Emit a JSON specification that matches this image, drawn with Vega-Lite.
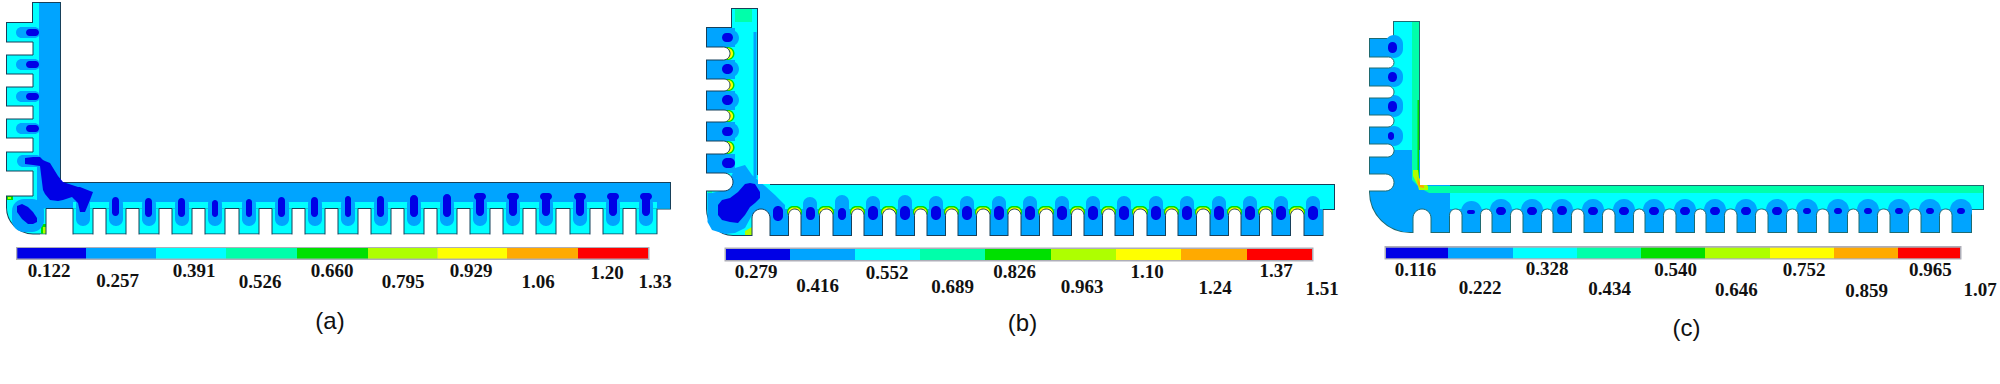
{"$schema":"https://vega.github.io/schema/vega-lite/v6.json","width":2000,"height":384,"padding":0,"autosize":"none","background":"white","config":{"view":{"stroke":null},"legend":{"disable":true}},
"datasets":{
"r":[
{"p":"a","k":"sil","l":"2","x":33,"x2":60,"y":3,"y2":183},{"p":"a","k":"sil","l":"2","x":7,"x2":33,"y":23,"y2":196},{"p":"a","k":"sil","l":"2","x":33,"x2":670,"y":183,"y2":208.5},{"p":"a","k":"sil","l":"2","x":46,"x2":656.5,"y":208.5,"y2":233.5},
{"p":"b","k":"sil","l":"2","x":732,"x2":757,"y":9,"y2":185},{"p":"b","k":"sil","l":"2","x":707,"x2":733,"y":28,"y2":191},{"p":"b","k":"sil","l":"2","x":732,"x2":1334,"y":185,"y2":209},{"p":"b","k":"sil","l":"2","x":752,"x2":1322.5,"y":209,"y2":235},
{"p":"c","k":"sil","l":"2","x":1394,"x2":1419,"y":22,"y2":186},{"p":"c","k":"sil","l":"2","x":1370,"x2":1396,"y":39,"y2":191},{"p":"c","k":"sil","l":"2","x":1394,"x2":1983,"y":186,"y2":209},{"p":"c","k":"sil","l":"2","x":1413,"x2":1971,"y":209,"y2":232},
{"p":"a","k":"foot","l":"2","x":7,"x2":60,"y":180,"y2":233.5},{"p":"b","k":"foot","l":"2","x":707,"x2":770,"y":175,"y2":235},{"p":"c","k":"footc","l":"1","x":1370,"x2":1450,"y":150,"y2":232},
{"p":"a","k":"c","l":"1","x":39,"x2":60,"y":3,"y2":183},{"p":"a","k":"c","l":"1","x":46,"x2":670,"y":183,"y2":202},{"p":"a","k":"c","l":"1","x":37,"x2":60,"y":165,"y2":208.5},{"p":"a","k":"c","l":"1","x":46,"x2":73,"y":183,"y2":208.5},{"p":"a","k":"c","l":"1","x":657,"x2":670,"y":183,"y2":208.5},
{"p":"a","k":"c","l":"4","x":7,"x2":13,"y":196,"y2":200},{"p":"a","k":"c","l":"5","x":8,"x2":11,"y":197,"y2":199},{"p":"a","k":"c","l":"4","x":41,"x2":46,"y":224,"y2":233.5},{"p":"a","k":"c","l":"5","x":43,"x2":46,"y":227,"y2":233.5},
{"p":"b","k":"c","l":"3","x":735,"x2":752,"y":9,"y2":22},{"p":"b","k":"c","l":"1","x":753.5,"x2":756.5,"y":32,"y2":178},{"p":"b","k":"c","l":"1","x":707,"x2":735,"y":28,"y2":47},{"p":"b","k":"c","l":"1","x":707,"x2":735,"y":60,"y2":79},{"p":"b","k":"c","l":"1","x":707,"x2":735,"y":91,"y2":110},{"p":"b","k":"c","l":"1","x":707,"x2":735,"y":122,"y2":141},{"p":"b","k":"c","l":"1","x":707,"x2":735,"y":154,"y2":173},{"p":"b","k":"c","l":"1","x":752,"x2":1322.5,"y":209,"y2":235},{"p":"b","k":"c","l":"3","x":708,"x2":712,"y":191,"y2":200},
{"p":"c","k":"c","l":"3","x":1412,"x2":1419,"y":22,"y2":186},{"p":"c","k":"c","l":"3","x":1412,"x2":1983,"y":186,"y2":193},{"p":"c","k":"c","l":"4","x":1417.5,"x2":1419,"y":100,"y2":180},{"p":"c","k":"c","l":"1","x":1370,"x2":1396,"y":39,"y2":57},{"p":"c","k":"c","l":"1","x":1370,"x2":1396,"y":68,"y2":86},{"p":"c","k":"c","l":"1","x":1370,"x2":1396,"y":98,"y2":115},{"p":"c","k":"c","l":"1","x":1370,"x2":1396,"y":127,"y2":144},{"p":"c","k":"c","l":"1","x":1413,"x2":1971,"y":209,"y2":232},

{"p":"a","k":"b","l":"1","x":16,"x2":40,"y":27,"y2":38},{"p":"a","k":"b","l":"1","x":16,"x2":40,"y":59,"y2":70},{"p":"a","k":"b","l":"1","x":16,"x2":40,"y":91,"y2":102},{"p":"a","k":"b","l":"1","x":16,"x2":40,"y":123,"y2":134},{"p":"a","k":"b","l":"1","x":17,"x2":42,"y":155,"y2":167},{"p":"a","k":"b","l":"1","x":12,"x2":44,"y":199,"y2":232},
{"p":"a","k":"b","l":"1","x":76,"x2":90,"y":197,"y2":226},{"p":"a","k":"b","l":"1","x":109,"x2":123,"y":197,"y2":226},{"p":"a","k":"b","l":"1","x":142,"x2":156,"y":197,"y2":226},{"p":"a","k":"b","l":"1","x":175,"x2":189,"y":197,"y2":226},{"p":"a","k":"b","l":"1","x":208,"x2":222,"y":197,"y2":226},{"p":"a","k":"b","l":"1","x":242,"x2":256,"y":197,"y2":226},{"p":"a","k":"b","l":"1","x":275,"x2":289,"y":197,"y2":226},{"p":"a","k":"b","l":"1","x":308,"x2":322,"y":197,"y2":226},{"p":"a","k":"b","l":"1","x":341,"x2":355,"y":197,"y2":226},{"p":"a","k":"b","l":"1","x":374,"x2":388,"y":197,"y2":226},{"p":"a","k":"b","l":"1","x":407,"x2":421,"y":197,"y2":226},{"p":"a","k":"b","l":"1","x":440,"x2":454,"y":197,"y2":226},{"p":"a","k":"b","l":"1","x":473,"x2":487,"y":197,"y2":226},{"p":"a","k":"b","l":"1","x":506,"x2":520,"y":197,"y2":226},{"p":"a","k":"b","l":"1","x":539,"x2":553,"y":197,"y2":226},{"p":"a","k":"b","l":"1","x":573,"x2":587,"y":197,"y2":226},{"p":"a","k":"b","l":"1","x":606,"x2":620,"y":197,"y2":226},{"p":"a","k":"b","l":"1","x":639,"x2":653,"y":197,"y2":226},

{"p":"b","k":"b","l":"1","x":722,"x2":739,"y":30,"y2":46},{"p":"b","k":"b","l":"1","x":722,"x2":739,"y":61,"y2":77},{"p":"b","k":"b","l":"1","x":722,"x2":739,"y":92,"y2":108},{"p":"b","k":"b","l":"1","x":722,"x2":739,"y":123,"y2":139},
{"p":"b","k":"b","l":"1","x":803,"x2":817,"y":197,"y2":225},{"p":"b","k":"b","l":"1","x":835,"x2":849,"y":195,"y2":225},{"p":"b","k":"b","l":"1","x":866,"x2":880,"y":196,"y2":225},{"p":"b","k":"b","l":"1","x":898,"x2":912,"y":195,"y2":225},{"p":"b","k":"b","l":"1","x":929,"x2":943,"y":196,"y2":225},{"p":"b","k":"b","l":"1","x":960,"x2":974,"y":196,"y2":225},{"p":"b","k":"b","l":"1","x":992,"x2":1006,"y":196,"y2":225},{"p":"b","k":"b","l":"1","x":1023,"x2":1037,"y":196,"y2":225},{"p":"b","k":"b","l":"1","x":1055,"x2":1069,"y":196,"y2":225},{"p":"b","k":"b","l":"1","x":1086,"x2":1100,"y":196,"y2":225},{"p":"b","k":"b","l":"1","x":1117,"x2":1131,"y":196,"y2":225},{"p":"b","k":"b","l":"1","x":1149,"x2":1163,"y":196,"y2":225},{"p":"b","k":"b","l":"1","x":1180,"x2":1194,"y":196,"y2":225},{"p":"b","k":"b","l":"1","x":1212,"x2":1226,"y":196,"y2":225},{"p":"b","k":"b","l":"1","x":1243,"x2":1257,"y":196,"y2":225},{"p":"b","k":"b","l":"1","x":1274,"x2":1288,"y":196,"y2":225},{"p":"b","k":"b","l":"1","x":1306,"x2":1320,"y":196,"y2":225},

{"p":"c","k":"b","l":"1","x":1385,"x2":1403,"y":35,"y2":58},{"p":"c","k":"b","l":"1","x":1385,"x2":1403,"y":67,"y2":87},{"p":"c","k":"b","l":"1","x":1385,"x2":1403,"y":95,"y2":117},{"p":"c","k":"b","l":"1","x":1385,"x2":1403,"y":126,"y2":146},
{"p":"c","k":"b","l":"1","x":1461,"x2":1482,"y":201,"y2":222},{"p":"c","k":"b","l":"1","x":1490,"x2":1512,"y":199,"y2":222},{"p":"c","k":"b","l":"1","x":1521,"x2":1543,"y":199,"y2":222},{"p":"c","k":"b","l":"1","x":1551,"x2":1573,"y":199,"y2":222},{"p":"c","k":"b","l":"1","x":1582,"x2":1604,"y":199,"y2":222},{"p":"c","k":"b","l":"1","x":1613,"x2":1635,"y":199,"y2":222},{"p":"c","k":"b","l":"1","x":1643,"x2":1665,"y":199,"y2":222},{"p":"c","k":"b","l":"1","x":1674,"x2":1696,"y":199,"y2":222},{"p":"c","k":"b","l":"1","x":1704,"x2":1726,"y":199,"y2":222},{"p":"c","k":"b","l":"1","x":1735,"x2":1757,"y":199,"y2":222},{"p":"c","k":"b","l":"1","x":1766,"x2":1788,"y":199,"y2":222},{"p":"c","k":"b","l":"1","x":1796,"x2":1818,"y":199,"y2":222},{"p":"c","k":"b","l":"1","x":1827,"x2":1849,"y":199,"y2":222},{"p":"c","k":"b","l":"1","x":1857,"x2":1879,"y":199,"y2":222},{"p":"c","k":"b","l":"1","x":1888,"x2":1910,"y":199,"y2":222},{"p":"c","k":"b","l":"1","x":1919,"x2":1941,"y":199,"y2":222},{"p":"c","k":"b","l":"1","x":1950,"x2":1972,"y":199,"y2":222},

{"p":"a","k":"s","l":"0","x":26,"x2":39,"y":29,"y2":36},{"p":"a","k":"s","l":"0","x":26,"x2":39,"y":61,"y2":68},{"p":"a","k":"s","l":"0","x":26,"x2":39,"y":93,"y2":100},{"p":"a","k":"s","l":"0","x":26,"x2":39,"y":125,"y2":132},
{"p":"a","k":"s","l":"0","x":112,"x2":119,"y":197,"y2":216},{"p":"a","k":"s","l":"0","x":145,"x2":152,"y":198,"y2":217},{"p":"a","k":"s","l":"0","x":178,"x2":185,"y":198,"y2":217},{"p":"a","k":"s","l":"0","x":212,"x2":218,"y":200,"y2":217},{"p":"a","k":"s","l":"0","x":246,"x2":252,"y":199,"y2":217},{"p":"a","k":"s","l":"0","x":278,"x2":285,"y":197,"y2":217},{"p":"a","k":"s","l":"0","x":311,"x2":318,"y":197,"y2":217},{"p":"a","k":"s","l":"0","x":345,"x2":351,"y":196,"y2":217},{"p":"a","k":"s","l":"0","x":377,"x2":384,"y":196,"y2":217},{"p":"a","k":"s","l":"0","x":410,"x2":418,"y":195,"y2":217},{"p":"a","k":"s","l":"0","x":443,"x2":451,"y":194,"y2":217},{"p":"a","k":"s","l":"0","x":476,"x2":484,"y":194,"y2":216},{"p":"a","k":"s","l":"0","x":509,"x2":517,"y":194,"y2":216},{"p":"a","k":"s","l":"0","x":542,"x2":550,"y":194,"y2":216},{"p":"a","k":"s","l":"0","x":576,"x2":584,"y":194,"y2":216},{"p":"a","k":"s","l":"0","x":609,"x2":617,"y":194,"y2":216},{"p":"a","k":"s","l":"0","x":642,"x2":650,"y":194,"y2":216},
{"p":"a","k":"s","l":"0","x":474,"x2":486,"y":193,"y2":200},{"p":"a","k":"s","l":"0","x":507,"x2":519,"y":193,"y2":200},{"p":"a","k":"s","l":"0","x":540,"x2":552,"y":193,"y2":200},{"p":"a","k":"s","l":"0","x":574,"x2":586,"y":193,"y2":200},{"p":"a","k":"s","l":"0","x":607,"x2":619,"y":193,"y2":200},{"p":"a","k":"s","l":"0","x":640,"x2":652,"y":193,"y2":200},

{"p":"b","k":"s","l":"0","x":722,"x2":733,"y":33,"y2":42},{"p":"b","k":"s","l":"0","x":722,"x2":733,"y":64,"y2":74},{"p":"b","k":"s","l":"0","x":722,"x2":733,"y":95,"y2":105},{"p":"b","k":"s","l":"0","x":722,"x2":733,"y":127,"y2":136},{"p":"b","k":"s","l":"0","x":722,"x2":735,"y":158,"y2":168},
{"p":"b","k":"s","l":"4","x":715,"x2":734.5,"y":47,"y2":60},{"p":"b","k":"s","l":"6","x":715,"x2":733,"y":48,"y2":59},{"p":"b","k":"s","l":"4","x":715,"x2":734.5,"y":79,"y2":91},{"p":"b","k":"s","l":"6","x":715,"x2":733,"y":80,"y2":90},{"p":"b","k":"s","l":"4","x":715,"x2":734.5,"y":110,"y2":122},{"p":"b","k":"s","l":"6","x":715,"x2":733,"y":111,"y2":121},{"p":"b","k":"s","l":"4","x":715,"x2":734.5,"y":141,"y2":154},{"p":"b","k":"s","l":"6","x":715,"x2":733,"y":142,"y2":153},
{"p":"b","k":"s","l":"0","x":773,"x2":783,"y":206,"y2":221},{"p":"b","k":"s","l":"0","x":806,"x2":815,"y":207,"y2":220},{"p":"b","k":"s","l":"0","x":838,"x2":846,"y":208,"y2":220},{"p":"b","k":"s","l":"0","x":868,"x2":878,"y":206,"y2":220},{"p":"b","k":"s","l":"0","x":900,"x2":910,"y":206,"y2":220},{"p":"b","k":"s","l":"0","x":931,"x2":941,"y":206,"y2":220},{"p":"b","k":"s","l":"0","x":962,"x2":972,"y":206,"y2":220},{"p":"b","k":"s","l":"0","x":994,"x2":1004,"y":206,"y2":220},{"p":"b","k":"s","l":"0","x":1025,"x2":1035,"y":206,"y2":220},{"p":"b","k":"s","l":"0","x":1057,"x2":1067,"y":206,"y2":220},{"p":"b","k":"s","l":"0","x":1088,"x2":1098,"y":206,"y2":220},{"p":"b","k":"s","l":"0","x":1119,"x2":1129,"y":206,"y2":220},{"p":"b","k":"s","l":"0","x":1151,"x2":1161,"y":206,"y2":220},{"p":"b","k":"s","l":"0","x":1182,"x2":1192,"y":206,"y2":220},{"p":"b","k":"s","l":"0","x":1214,"x2":1224,"y":206,"y2":220},{"p":"b","k":"s","l":"0","x":1245,"x2":1255,"y":206,"y2":220},{"p":"b","k":"s","l":"0","x":1276,"x2":1286,"y":206,"y2":220},{"p":"b","k":"s","l":"0","x":1308,"x2":1318,"y":206,"y2":220},

{"p":"c","k":"s","l":"0","x":1388,"x2":1397,"y":42,"y2":53},{"p":"c","k":"s","l":"0","x":1388,"x2":1397,"y":72,"y2":82},{"p":"c","k":"s","l":"0","x":1388,"x2":1397,"y":101,"y2":112},{"p":"c","k":"s","l":"0","x":1388,"x2":1394,"y":132,"y2":140},
{"p":"c","k":"s","l":"0","x":1467,"x2":1475,"y":210,"y2":214},{"p":"c","k":"s","l":"0","x":1496,"x2":1506,"y":207,"y2":215},{"p":"c","k":"s","l":"0","x":1527,"x2":1537,"y":207,"y2":215},{"p":"c","k":"s","l":"0","x":1557,"x2":1567,"y":206,"y2":215},{"p":"c","k":"s","l":"0","x":1588,"x2":1598,"y":207,"y2":215},{"p":"c","k":"s","l":"0","x":1619,"x2":1629,"y":207,"y2":215},{"p":"c","k":"s","l":"0","x":1649,"x2":1659,"y":207,"y2":215},{"p":"c","k":"s","l":"0","x":1680,"x2":1690,"y":207,"y2":215},{"p":"c","k":"s","l":"0","x":1710,"x2":1720,"y":207,"y2":215},{"p":"c","k":"s","l":"0","x":1741,"x2":1751,"y":207,"y2":215},{"p":"c","k":"s","l":"0","x":1772,"x2":1782,"y":207,"y2":215},{"p":"c","k":"s","l":"0","x":1803,"x2":1811,"y":208,"y2":214},{"p":"c","k":"s","l":"0","x":1834,"x2":1842,"y":208,"y2":214},{"p":"c","k":"s","l":"0","x":1864,"x2":1872,"y":208,"y2":214},{"p":"c","k":"s","l":"0","x":1895,"x2":1903,"y":208,"y2":214},{"p":"c","k":"s","l":"0","x":1926,"x2":1934,"y":208,"y2":214},{"p":"c","k":"s","l":"0","x":1957,"x2":1965,"y":208,"y2":214},

{"p":"b","k":"s","l":"4","x":787,"x2":802,"y":206,"y2":218},{"p":"b","k":"s","l":"6","x":788,"x2":801,"y":207.5,"y2":218},{"p":"b","k":"s","l":"4","x":818,"x2":834,"y":206,"y2":218},{"p":"b","k":"s","l":"6","x":819,"x2":833,"y":207.5,"y2":218},{"p":"b","k":"s","l":"4","x":850,"x2":865,"y":206,"y2":218},{"p":"b","k":"s","l":"6","x":851,"x2":864,"y":207.5,"y2":218},{"p":"b","k":"s","l":"4","x":881,"x2":897,"y":206,"y2":218},{"p":"b","k":"s","l":"6","x":882,"x2":896,"y":207.5,"y2":218},{"p":"b","k":"s","l":"4","x":913,"x2":928,"y":206,"y2":218},{"p":"b","k":"s","l":"6","x":914,"x2":927,"y":207.5,"y2":218},{"p":"b","k":"s","l":"4","x":944,"x2":959,"y":206,"y2":218},{"p":"b","k":"s","l":"6","x":945,"x2":958,"y":207.5,"y2":218},{"p":"b","k":"s","l":"4","x":975,"x2":991,"y":206,"y2":218},{"p":"b","k":"s","l":"6","x":976,"x2":990,"y":207.5,"y2":218},{"p":"b","k":"s","l":"4","x":1007,"x2":1022,"y":206,"y2":218},{"p":"b","k":"s","l":"6","x":1008,"x2":1021,"y":207.5,"y2":218},{"p":"b","k":"s","l":"4","x":1038,"x2":1054,"y":206,"y2":218},{"p":"b","k":"s","l":"6","x":1039,"x2":1053,"y":207.5,"y2":218},{"p":"b","k":"s","l":"4","x":1070,"x2":1085,"y":206,"y2":218},{"p":"b","k":"s","l":"6","x":1071,"x2":1084,"y":207.5,"y2":218},{"p":"b","k":"s","l":"4","x":1101,"x2":1116,"y":206,"y2":218},{"p":"b","k":"s","l":"6","x":1102,"x2":1115,"y":207.5,"y2":218},{"p":"b","k":"s","l":"4","x":1132,"x2":1148,"y":206,"y2":218},{"p":"b","k":"s","l":"6","x":1133,"x2":1147,"y":207.5,"y2":218},{"p":"b","k":"s","l":"4","x":1164,"x2":1179,"y":206,"y2":218},{"p":"b","k":"s","l":"6","x":1165,"x2":1178,"y":207.5,"y2":218},{"p":"b","k":"s","l":"4","x":1195,"x2":1211,"y":206,"y2":218},{"p":"b","k":"s","l":"6","x":1196,"x2":1210,"y":207.5,"y2":218},{"p":"b","k":"s","l":"4","x":1227,"x2":1242,"y":206,"y2":218},{"p":"b","k":"s","l":"6","x":1228,"x2":1241,"y":207.5,"y2":218},{"p":"b","k":"s","l":"4","x":1258,"x2":1273,"y":206,"y2":218},{"p":"b","k":"s","l":"6","x":1259,"x2":1272,"y":207.5,"y2":218},{"p":"b","k":"s","l":"4","x":1289,"x2":1305,"y":206,"y2":218},{"p":"b","k":"s","l":"6","x":1290,"x2":1304,"y":207.5,"y2":218},

{"p":"a","k":"sq","l":"w","x":0,"x2":33,"y":42,"y2":55},{"p":"a","k":"sq","l":"w","x":0,"x2":33,"y":74,"y2":87},{"p":"a","k":"sq","l":"w","x":0,"x2":33,"y":106,"y2":119},{"p":"a","k":"sq","l":"w","x":0,"x2":33,"y":138,"y2":152},{"p":"a","k":"sq","l":"w","x":0,"x2":33,"y":171,"y2":196},
{"p":"a","k":"sq","l":"w","x":46,"x2":73,"y":208.5,"y2":245},{"p":"a","k":"sq","l":"w","x":93,"x2":106,"y":208.5,"y2":245},{"p":"a","k":"sq","l":"w","x":126,"x2":139,"y":208.5,"y2":245},{"p":"a","k":"sq","l":"w","x":159,"x2":172,"y":208.5,"y2":245},{"p":"a","k":"sq","l":"w","x":192,"x2":205,"y":208.5,"y2":245},{"p":"a","k":"sq","l":"w","x":225,"x2":239,"y":208.5,"y2":245},{"p":"a","k":"sq","l":"w","x":259,"x2":272,"y":208.5,"y2":245},{"p":"a","k":"sq","l":"w","x":292,"x2":305,"y":208.5,"y2":245},{"p":"a","k":"sq","l":"w","x":325,"x2":338,"y":208.5,"y2":245},{"p":"a","k":"sq","l":"w","x":358,"x2":371,"y":208.5,"y2":245},{"p":"a","k":"sq","l":"w","x":391,"x2":404,"y":208.5,"y2":245},{"p":"a","k":"sq","l":"w","x":424,"x2":437,"y":208.5,"y2":245},{"p":"a","k":"sq","l":"w","x":457,"x2":470,"y":208.5,"y2":245},{"p":"a","k":"sq","l":"w","x":490,"x2":503,"y":208.5,"y2":245},{"p":"a","k":"sq","l":"w","x":523,"x2":536,"y":208.5,"y2":245},{"p":"a","k":"sq","l":"w","x":556,"x2":570,"y":208.5,"y2":245},{"p":"a","k":"sq","l":"w","x":590,"x2":603,"y":208.5,"y2":245},{"p":"a","k":"sq","l":"w","x":623,"x2":636,"y":208.5,"y2":245},

{"p":"b","k":"sr","l":"w","x":690,"x2":730,"y":47,"y2":60},{"p":"b","k":"sr","l":"w","x":690,"x2":730,"y":79,"y2":91},{"p":"b","k":"sr","l":"w","x":690,"x2":730,"y":110,"y2":122},{"p":"b","k":"sr","l":"w","x":690,"x2":730,"y":141,"y2":154},{"p":"b","k":"sr","l":"w","x":690,"x2":733,"y":173,"y2":191},
{"p":"b","k":"sr","l":"w","x":752,"x2":770,"y":209,"y2":245},{"p":"b","k":"sr","l":"w","x":788.5,"x2":801,"y":209,"y2":245},{"p":"b","k":"sr","l":"w","x":819.5,"x2":833,"y":209,"y2":245},{"p":"b","k":"sr","l":"w","x":851.5,"x2":864,"y":209,"y2":245},{"p":"b","k":"sr","l":"w","x":882.5,"x2":896,"y":209,"y2":245},{"p":"b","k":"sr","l":"w","x":914.5,"x2":927,"y":209,"y2":245},{"p":"b","k":"sr","l":"w","x":945.5,"x2":958,"y":209,"y2":245},{"p":"b","k":"sr","l":"w","x":976.5,"x2":990,"y":209,"y2":245},{"p":"b","k":"sr","l":"w","x":1008,"x2":1021,"y":209,"y2":245},{"p":"b","k":"sr","l":"w","x":1039.5,"x2":1053,"y":209,"y2":245},{"p":"b","k":"sr","l":"w","x":1071.5,"x2":1084,"y":209,"y2":245},{"p":"b","k":"sr","l":"w","x":1102.5,"x2":1115,"y":209,"y2":245},{"p":"b","k":"sr","l":"w","x":1133.5,"x2":1147,"y":209,"y2":245},{"p":"b","k":"sr","l":"w","x":1165.5,"x2":1178,"y":209,"y2":245},{"p":"b","k":"sr","l":"w","x":1196.5,"x2":1210,"y":209,"y2":245},{"p":"b","k":"sr","l":"w","x":1228.5,"x2":1241,"y":209,"y2":245},{"p":"b","k":"sr","l":"w","x":1259.5,"x2":1272,"y":209,"y2":245},{"p":"b","k":"sr","l":"w","x":1290.5,"x2":1304,"y":209,"y2":245},

{"p":"c","k":"sr","l":"w","x":1352,"x2":1394,"y":57,"y2":68},{"p":"c","k":"sr","l":"w","x":1352,"x2":1394,"y":86,"y2":98},{"p":"c","k":"sr","l":"w","x":1352,"x2":1394,"y":115,"y2":127},{"p":"c","k":"sr","l":"w","x":1352,"x2":1394,"y":144,"y2":157},{"p":"c","k":"sr","l":"w","x":1352,"x2":1394,"y":174,"y2":191},
{"p":"c","k":"sr","l":"w","x":1413,"x2":1431,"y":209,"y2":245},{"p":"c","k":"sr","l":"w","x":1449.5,"x2":1462,"y":209,"y2":245},{"p":"c","k":"sr","l":"w","x":1480.5,"x2":1492,"y":209,"y2":245},{"p":"c","k":"sr","l":"w","x":1510.5,"x2":1523,"y":209,"y2":245},{"p":"c","k":"sr","l":"w","x":1541.5,"x2":1553,"y":209,"y2":245},{"p":"c","k":"sr","l":"w","x":1571.5,"x2":1584,"y":209,"y2":245},{"p":"c","k":"sr","l":"w","x":1602.5,"x2":1615,"y":209,"y2":245},{"p":"c","k":"sr","l":"w","x":1633.5,"x2":1645,"y":209,"y2":245},{"p":"c","k":"sr","l":"w","x":1663.5,"x2":1676,"y":209,"y2":245},{"p":"c","k":"sr","l":"w","x":1694.5,"x2":1706,"y":209,"y2":245},{"p":"c","k":"sr","l":"w","x":1724.5,"x2":1737,"y":209,"y2":245},{"p":"c","k":"sr","l":"w","x":1755.5,"x2":1768,"y":209,"y2":245},{"p":"c","k":"sr","l":"w","x":1786.5,"x2":1798,"y":209,"y2":245},{"p":"c","k":"sr","l":"w","x":1816.5,"x2":1829,"y":209,"y2":245},{"p":"c","k":"sr","l":"w","x":1847.5,"x2":1859,"y":209,"y2":245},{"p":"c","k":"sr","l":"w","x":1877.5,"x2":1890,"y":209,"y2":245},{"p":"c","k":"sr","l":"w","x":1908.5,"x2":1921,"y":209,"y2":245},{"p":"c","k":"sr","l":"w","x":1939.5,"x2":1952,"y":209,"y2":245},

{"p":"a","k":"m","l":"w","x":0,"x2":6,"y":20,"y2":200},{"p":"a","k":"m","l":"w","x":40,"x2":660,"y":234.5,"y2":246},
{"p":"b","k":"m","l":"w","x":688,"x2":706,"y":20,"y2":200},{"p":"b","k":"m","l":"w","x":745,"x2":1325,"y":236,"y2":246},{"p":"b","k":"m","l":"w","x":758,"x2":772,"y":170,"y2":184},
{"p":"c","k":"m","l":"w","x":1350,"x2":1369,"y":30,"y2":195},{"p":"c","k":"m","l":"w","x":1405,"x2":1975,"y":233,"y2":246},{"p":"c","k":"m","l":"w","x":1420,"x2":1452,"y":140,"y2":185},

{"p":"a","k":"f","l":"g","x":16,"x2":649.5,"y":247,"y2":260},{"p":"b","k":"f","l":"g","x":724.5,"x2":1313.5,"y":247.5,"y2":261.5},{"p":"c","k":"f","l":"g","x":1384.5,"x2":1961.5,"y":246,"y2":259.5},
{"p":"a","k":"f","l":"0","x":17.3,"x2":86,"y":248,"y2":258.5},{"p":"a","k":"f","l":"1","x":86,"x2":156,"y":248,"y2":258.5},{"p":"a","k":"f","l":"2","x":156,"x2":226,"y":248,"y2":258.5},{"p":"a","k":"f","l":"3","x":226,"x2":297,"y":248,"y2":258.5},{"p":"a","k":"f","l":"4","x":297,"x2":368,"y":248,"y2":258.5},{"p":"a","k":"f","l":"5","x":368,"x2":437.5,"y":248,"y2":258.5},{"p":"a","k":"f","l":"6","x":437.5,"x2":507,"y":248,"y2":258.5},{"p":"a","k":"f","l":"7","x":507,"x2":578,"y":248,"y2":258.5},{"p":"a","k":"f","l":"8","x":578,"x2":648,"y":248,"y2":258.5},
{"p":"b","k":"f","l":"0","x":726,"x2":790,"y":249,"y2":260},{"p":"b","k":"f","l":"1","x":790,"x2":855,"y":249,"y2":260},{"p":"b","k":"f","l":"2","x":855,"x2":920,"y":249,"y2":260},{"p":"b","k":"f","l":"3","x":920,"x2":985,"y":249,"y2":260},{"p":"b","k":"f","l":"4","x":985,"x2":1051,"y":249,"y2":260},{"p":"b","k":"f","l":"5","x":1051,"x2":1116,"y":249,"y2":260},{"p":"b","k":"f","l":"6","x":1116,"x2":1181,"y":249,"y2":260},{"p":"b","k":"f","l":"7","x":1181,"x2":1247,"y":249,"y2":260},{"p":"b","k":"f","l":"8","x":1247,"x2":1312,"y":249,"y2":260},
{"p":"c","k":"f","l":"0","x":1386,"x2":1448,"y":247.7,"y2":258.3},{"p":"c","k":"f","l":"1","x":1448,"x2":1513,"y":247.7,"y2":258.3},{"p":"c","k":"f","l":"2","x":1513,"x2":1577,"y":247.7,"y2":258.3},{"p":"c","k":"f","l":"3","x":1577,"x2":1641,"y":247.7,"y2":258.3},{"p":"c","k":"f","l":"4","x":1641,"x2":1705,"y":247.7,"y2":258.3},{"p":"c","k":"f","l":"5","x":1705,"x2":1770,"y":247.7,"y2":258.3},{"p":"c","k":"f","l":"6","x":1770,"x2":1834,"y":247.7,"y2":258.3},{"p":"c","k":"f","l":"7","x":1834,"x2":1898,"y":247.7,"y2":258.3},{"p":"c","k":"f","l":"8","x":1898,"x2":1960,"y":247.7,"y2":258.3}
],
"ar":[
{"g":"a1","l":"0","x":25,"y":158,"y2":164},{"g":"a1","l":"0","x":33,"y":157,"y2":165},{"g":"a1","l":"0","x":40,"y":157,"y2":166},{"g":"a1","l":"0","x":43,"y":160,"y2":190},{"g":"a1","l":"0","x":45,"y":161,"y2":194},{"g":"a1","l":"0","x":50,"y":163,"y2":200},{"g":"a1","l":"0","x":58,"y":176,"y2":201},{"g":"a1","l":"0","x":63,"y":182,"y2":200},{"g":"a1","l":"0","x":72,"y":185,"y2":197},{"g":"a1","l":"0","x":78,"y":187,"y2":203},{"g":"a1","l":"0","x":80,"y":187,"y2":212},{"g":"a1","l":"0","x":85,"y":189,"y2":212},{"g":"a1","l":"0","x":90,"y":191,"y2":200},{"g":"a1","l":"0","x":93,"y":192,"y2":192},
{"g":"a2","l":"0","x":17,"y":206,"y2":212},{"g":"a2","l":"0","x":22,"y":204,"y2":219},{"g":"a2","l":"0","x":28,"y":207,"y2":224},{"g":"a2","l":"0","x":33,"y":212,"y2":224},{"g":"a2","l":"0","x":37,"y":218,"y2":222},
{"g":"b1","l":"1","x":707.5,"y":193,"y2":222},{"g":"b1","l":"1","x":712,"y":193,"y2":230},{"g":"b1","l":"1","x":725,"y":190,"y2":234},{"g":"b1","l":"1","x":735,"y":168,"y2":233},{"g":"b1","l":"1","x":745,"y":165,"y2":228},{"g":"b1","l":"1","x":752,"y":175,"y2":215},{"g":"b1","l":"1","x":765,"y":186,"y2":212},{"g":"b1","l":"1","x":775,"y":195,"y2":212},{"g":"b1","l":"1","x":785,"y":205,"y2":210},
{"g":"b2","l":"0","x":718,"y":205,"y2":215},{"g":"b2","l":"0","x":722,"y":200,"y2":220},{"g":"b2","l":"0","x":730,"y":198,"y2":222},{"g":"b2","l":"0","x":738,"y":192,"y2":223},{"g":"b2","l":"0","x":745,"y":184,"y2":215},{"g":"b2","l":"0","x":750,"y":183,"y2":207},{"g":"b2","l":"0","x":755,"y":184,"y2":203},{"g":"b2","l":"0","x":760,"y":192,"y2":198},
{"g":"c1","l":"1","x":1370,"y":157,"y2":192},{"g":"c1","l":"1","x":1374,"y":157,"y2":208},{"g":"c1","l":"1","x":1385,"y":157,"y2":222},{"g":"c1","l":"1","x":1400,"y":155,"y2":230},{"g":"c1","l":"1","x":1404,"y":165,"y2":232},{"g":"c1","l":"1","x":1412,"y":180,"y2":232},{"g":"c1","l":"1","x":1420,"y":188,"y2":232},{"g":"c1","l":"1","x":1431,"y":194,"y2":232},{"g":"c1","l":"1","x":1449,"y":205,"y2":232},
{"g":"c2","l":"5","x":1413,"y":170,"y2":176},{"g":"c2","l":"5","x":1418,"y":170,"y2":186},{"g":"c2","l":"5","x":1419,"y":178,"y2":190},{"g":"c2","l":"5","x":1428,"y":186,"y2":190},
{"g":"c3","l":"7","x":1417.5,"y":176,"y2":183},{"g":"c3","l":"7","x":1419,"y":181,"y2":187},{"g":"c3","l":"7","x":1424,"y":186,"y2":188},
{"g":"b3","l":"5","x":745,"y":231,"y2":235},{"g":"b3","l":"5","x":752,"y":227,"y2":235}
],
"tx":[
{"k":"n","t":"0.122","x":49,"y":270.7},{"k":"n","t":"0.257","x":117.5,"y":281},{"k":"n","t":"0.391","x":194,"y":271},{"k":"n","t":"0.526","x":260,"y":281.5},{"k":"n","t":"0.660","x":332,"y":270.7},{"k":"n","t":"0.795","x":403,"y":282},{"k":"n","t":"0.929","x":471,"y":271},{"k":"n","t":"1.06","x":538,"y":282},{"k":"n","t":"1.20","x":607,"y":273},{"k":"n","t":"1.33","x":655,"y":281.5},
{"k":"n","t":"0.279","x":756,"y":272.3},{"k":"n","t":"0.416","x":817.5,"y":285.5},{"k":"n","t":"0.552","x":887,"y":273},{"k":"n","t":"0.689","x":952.6,"y":287},{"k":"n","t":"0.826","x":1014.5,"y":271.6},{"k":"n","t":"0.963","x":1082,"y":286.5},{"k":"n","t":"1.10","x":1147,"y":271.6},{"k":"n","t":"1.24","x":1215,"y":288},{"k":"n","t":"1.37","x":1276,"y":271},{"k":"n","t":"1.51","x":1322,"y":289},
{"k":"n","t":"0.116","x":1415.5,"y":270},{"k":"n","t":"0.222","x":1480,"y":288},{"k":"n","t":"0.328","x":1547,"y":269},{"k":"n","t":"0.434","x":1609.5,"y":289},{"k":"n","t":"0.540","x":1675.5,"y":270},{"k":"n","t":"0.646","x":1736.4,"y":289.5},{"k":"n","t":"0.752","x":1804,"y":270},{"k":"n","t":"0.859","x":1866.6,"y":291},{"k":"n","t":"0.965","x":1930.4,"y":270},{"k":"n","t":"1.07","x":1980,"y":290},
{"k":"c","t":"(a)","x":330,"y":322},{"k":"c","t":"(b)","x":1022.5,"y":323.5},{"k":"c","t":"(c)","x":1686.6,"y":329}
]},
"layer":[
{"data":{"name":"r"},"encoding":{"x":{"field":"x","type":"quantitative","scale":{"domain":[0,2000],"nice":false,"zero":false},"axis":null},"x2":{"field":"x2"},"y":{"field":"y","type":"quantitative","scale":{"domain":[384,0],"nice":false,"zero":false},"axis":null},"y2":{"field":"y2"},"fill":{"field":"l","type":"nominal","scale":{"domain":["0","1","2","3","4","5","6","7","8","g","w"],"range":["#0000e6","#00a4ff","#00ffff","#00ffaa","#00e000","#aeff00","#ffff00","#ffaa00","#ff0000","#aeaeb8","#ffffff"]}}},
"layer":[
{"transform":[{"filter":"datum.k=='sil'"}],"mark":{"type":"rect","strokeWidth":2},"encoding":{"stroke":{"field":"p","type":"nominal","scale":{"domain":["a","b","c"],"range":["#17405a","#17405a","#1f6a70"]}},"strokeDash":{"field":"p","type":"nominal","scale":{"domain":["a","b","c"],"range":[[3,1],[3,1],[1,0]]}}}},
{"transform":[{"filter":"datum.k=='foot'"}],"mark":{"type":"rect","strokeWidth":2,"cornerRadiusBottomLeft":26},"encoding":{"stroke":{"field":"p","type":"nominal","scale":{"domain":["a","b","c"],"range":["#17405a","#17405a","#1f6a70"]}},"strokeDash":{"field":"p","type":"nominal","scale":{"domain":["a","b","c"],"range":[[3,1],[3,1],[1,0]]}}}},
{"transform":[{"filter":"datum.k=='footc'"}],"mark":{"type":"rect","strokeWidth":2,"cornerRadiusBottomLeft":40},"encoding":{"stroke":{"field":"p","type":"nominal","scale":{"domain":["a","b","c"],"range":["#17405a","#17405a","#1f6a70"]}},"strokeDash":{"field":"p","type":"nominal","scale":{"domain":["a","b","c"],"range":[[3,1],[3,1],[1,0]]}}}},
{"transform":[{"filter":"datum.k=='sil'"}],"mark":{"type":"rect"}},
{"transform":[{"filter":"datum.k=='foot'"}],"mark":{"type":"rect","cornerRadiusBottomLeft":26}},
{"transform":[{"filter":"datum.k=='footc'"}],"mark":{"type":"rect","cornerRadiusBottomLeft":40}},
{"transform":[{"filter":"datum.k=='c'"}],"mark":{"type":"rect"}},
{"transform":[{"filter":"datum.k=='b'"}],"mark":{"type":"rect","cornerRadius":12}}
]},
{"data":{"name":"ar"},"mark":{"type":"area"},"encoding":{"x":{"field":"x","type":"quantitative","scale":{"domain":[0,2000],"nice":false,"zero":false},"axis":null},"y":{"field":"y","type":"quantitative","scale":{"domain":[384,0],"nice":false,"zero":false},"axis":null},"y2":{"field":"y2"},"detail":{"field":"g"},"fill":{"field":"l","type":"nominal"}}},
{"data":{"name":"r"},"encoding":{"x":{"field":"x","type":"quantitative","scale":{"domain":[0,2000],"nice":false,"zero":false},"axis":null},"x2":{"field":"x2"},"y":{"field":"y","type":"quantitative","scale":{"domain":[384,0],"nice":false,"zero":false},"axis":null},"y2":{"field":"y2"},"fill":{"field":"l","type":"nominal"}},
"layer":[
{"transform":[{"filter":"datum.k=='s'"}],"mark":{"type":"rect","cornerRadius":8}},
{"transform":[{"filter":"datum.k=='sq'"}],"mark":{"type":"rect","strokeWidth":1},"encoding":{"stroke":{"field":"p","type":"nominal"},"strokeDash":{"field":"p","type":"nominal"}}},
{"transform":[{"filter":"datum.k=='sr'"}],"mark":{"type":"rect","strokeWidth":1,"cornerRadius":9},"encoding":{"stroke":{"field":"p","type":"nominal"},"strokeDash":{"field":"p","type":"nominal"}}},
{"transform":[{"filter":"datum.k=='m'"}],"mark":{"type":"rect"}},
{"transform":[{"filter":"datum.k=='f'"}],"mark":{"type":"rect"}}
]},
{"data":{"name":"tx"},"transform":[{"filter":"datum.k=='n'"}],"mark":{"type":"text","font":"Liberation Serif","fontWeight":"bold","fontSize":19,"align":"center","baseline":"middle","fill":"#111111"},"encoding":{"x":{"field":"x","type":"quantitative","scale":{"domain":[0,2000],"nice":false,"zero":false},"axis":null},"y":{"field":"y","type":"quantitative","scale":{"domain":[384,0],"nice":false,"zero":false},"axis":null},"text":{"field":"t"}}},
{"data":{"name":"tx"},"transform":[{"filter":"datum.k=='c'"}],"mark":{"type":"text","font":"Liberation Sans","fontSize":24,"align":"center","baseline":"middle","fill":"#111111"},"encoding":{"x":{"field":"x","type":"quantitative","scale":{"domain":[0,2000],"nice":false,"zero":false},"axis":null},"y":{"field":"y","type":"quantitative","scale":{"domain":[384,0],"nice":false,"zero":false},"axis":null},"text":{"field":"t"}}}
]}
